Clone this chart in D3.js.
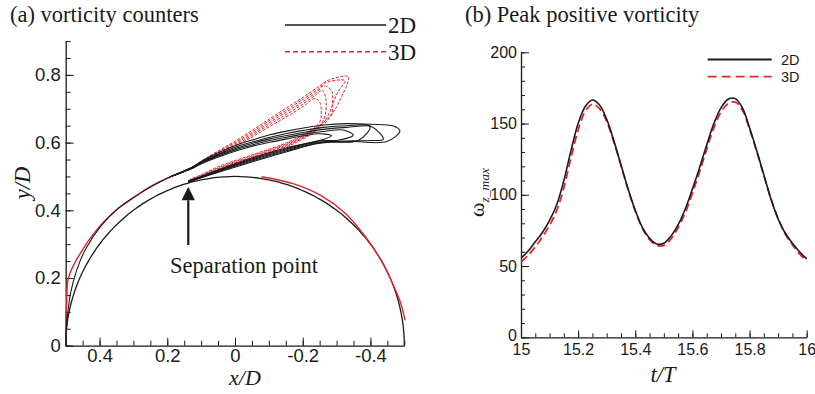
<!DOCTYPE html>
<html>
<head>
<meta charset="utf-8">
<script src="https://cdn.jsdelivr.net/npm/d3@7"></script>
<style>
  body { margin: 0; background: #fff; }
  svg { display: block; }
</style>
</head>
<body>
<svg id="chart" width="815" height="394"></svg>
<script>
// ---------- Panel (a): vorticity contours around the cylinder (x/D, y/D) ----------
const cylinderRadius = 0.5;
const xTicksA = [0.4, 0.2, 0, -0.2, -0.4];
const yTicksA = [0, 0.2, 0.4, 0.6, 0.8];

// 2D contour levels (solid black); first level wraps the front of the body
const contours2D = [
  [[0.4993,0.026],[0.495,0.087],[0.485,0.158],[0.469,0.219],[0.441,0.286],[0.395,0.355],[0.342,0.408],[0.281,0.450],[0.225,0.482],[0.191,0.499],[0.124,0.529],[0.094,0.548],[0.045,0.572],[-0.005,0.593],[-0.055,0.609],[-0.103,0.623],[-0.153,0.634],[-0.202,0.643],[-0.261,0.652],[-0.33,0.656],[-0.40,0.654],[-0.468,0.649],[-0.487,0.634],[-0.448,0.603],[-0.349,0.603],[-0.251,0.598],[-0.153,0.573],[-0.054,0.544],[0.044,0.514],[0.10,0.496],[0.138,0.483]],
  [[0.191,0.499],[0.124,0.528],[0.094,0.546],[0.045,0.568],[-0.005,0.588],[-0.055,0.603],[-0.103,0.616],[-0.153,0.627],[-0.202,0.636],[-0.261,0.645],[-0.33,0.650],[-0.40,0.649],[-0.438,0.61],[-0.40,0.606],[-0.349,0.605],[-0.251,0.600],[-0.153,0.576],[-0.054,0.547],[0.044,0.516],[0.10,0.497],[0.138,0.484]],
  [[0.191,0.499],[0.124,0.527],[0.094,0.544],[0.045,0.565],[-0.005,0.584],[-0.055,0.599],[-0.103,0.611],[-0.153,0.621],[-0.202,0.630],[-0.261,0.639],[-0.33,0.645],[-0.399,0.647],[-0.364,0.606],[-0.251,0.602],[-0.153,0.579],[-0.054,0.550],[0.044,0.518],[0.10,0.498],[0.138,0.485]],
  [[0.191,0.499],[0.124,0.526],[0.094,0.542],[0.045,0.562],[-0.005,0.580],[-0.055,0.594],[-0.103,0.606],[-0.153,0.616],[-0.202,0.625],[-0.261,0.633],[-0.32,0.637],[-0.349,0.622],[-0.305,0.607],[-0.251,0.605],[-0.153,0.582],[-0.054,0.553],[0.044,0.520],[0.10,0.499],[0.138,0.486]],
  [[0.191,0.499],[0.124,0.525],[0.094,0.540],[0.045,0.559],[-0.005,0.576],[-0.055,0.590],[-0.103,0.601],[-0.153,0.611],[-0.202,0.620],[-0.25,0.626],[-0.285,0.62],[-0.26,0.609],[-0.153,0.585],[-0.054,0.556],[0.044,0.522],[0.10,0.500],[0.138,0.487]]
];

// 3D wall layers (red, drawn solid where the levels pile up on the surface)
const wall3DFront = [[0.499,0.03],[0.5,0.07],[0.497,0.125],[0.492,0.2],[0.461,0.266],[0.408,0.343],[0.352,0.4],[0.304,0.434],[0.25,0.47],[0.191,0.4985]];
const wall3DRear = [[-0.078,0.499],[-0.174,0.478],[-0.2555,0.4425],[-0.327,0.390],[-0.3846,0.3227],[-0.433,0.25],[-0.4708,0.1714],[-0.4878,0.1307],[-0.4993,0.088],[-0.502,0.075]];

// 3D contour levels (dashed red)
const contours3D = [
  [[0.191,0.4985],[0.124,0.529],[0.094,0.549],[0.045,0.578],[-0.005,0.607],[-0.055,0.639],[-0.103,0.671],[-0.153,0.703],[-0.202,0.735],[-0.251,0.768],[-0.27,0.782],[-0.335,0.795],[-0.33,0.77],[-0.315,0.736],[-0.300,0.706],[-0.282,0.677],[-0.263,0.655],[-0.221,0.622],[-0.153,0.588],[-0.054,0.553],[0.044,0.519],[0.10,0.497],[0.133,0.487]],
  [[0.191,0.4985],[0.124,0.528],[0.094,0.547],[0.045,0.575],[-0.005,0.603],[-0.055,0.634],[-0.103,0.666],[-0.153,0.697],[-0.202,0.729],[-0.251,0.762],[-0.265,0.776],[-0.325,0.783],[-0.305,0.752],[-0.292,0.722],[-0.28,0.69],[-0.262,0.66],[-0.221,0.625],[-0.153,0.591],[-0.054,0.556],[0.044,0.522],[0.10,0.499],[0.133,0.488]],
  [[0.191,0.4985],[0.124,0.527],[0.094,0.545],[0.045,0.572],[-0.005,0.599],[-0.055,0.629],[-0.103,0.660],[-0.153,0.691],[-0.202,0.722],[-0.245,0.752],[-0.262,0.768],[-0.286,0.752],[-0.288,0.72],[-0.286,0.686],[-0.262,0.66],[-0.221,0.628],[-0.153,0.594],[-0.054,0.559],[0.044,0.525],[0.10,0.501],[0.133,0.489]],
  [[0.191,0.4985],[0.124,0.526],[0.094,0.543],[0.045,0.569],[-0.005,0.595],[-0.055,0.624],[-0.103,0.654],[-0.153,0.684],[-0.202,0.715],[-0.24,0.742],[-0.258,0.755],[-0.268,0.73],[-0.268,0.69],[-0.258,0.66],[-0.221,0.631],[-0.153,0.597],[-0.054,0.562],[0.044,0.528],[0.10,0.503],[0.133,0.490]],
  [[0.191,0.4985],[0.124,0.525],[0.094,0.541],[0.045,0.566],[-0.005,0.591],[-0.055,0.619],[-0.103,0.648],[-0.153,0.677],[-0.202,0.707],[-0.235,0.73],[-0.25,0.72],[-0.255,0.69],[-0.25,0.66],[-0.221,0.634],[-0.153,0.600],[-0.054,0.565],[0.044,0.531],[0.10,0.505],[0.133,0.491]]
];

// separation point annotation (arrow from label up to the surface)
const separationArrow = { x: 0.138, yFrom: 0.2975, yTip: 0.4697, headLen: 0.04, headHalf: 0.0197 };

// ---------- Panel (b): peak positive vorticity vs t/T ----------
const tValues = [15.000,15.025,15.050,15.075,15.100,15.125,15.150,15.175,15.200,15.225,15.250,15.275,15.300,15.325,15.350,15.375,15.400,15.425,15.450,15.475,15.500,15.525,15.550,15.575,15.600,15.625,15.650,15.675,15.700,15.725,15.750,15.775,15.800,15.825,15.850,15.875,15.900,15.925,15.950,15.975,16.000];
const vort2D = [55.5,60.5,67,73.5,82,93,110,131,150,162,166.5,163,153,138,121,104,89,77,69.5,65.5,66,71,79,90,104,119,135,150,161,167,167.5,161,147,131,114,97,83,73,66,60,55];
const vort3D = [53,57.5,63.5,70.5,78.5,89,105,126,145.5,158.5,163.5,160.5,151.5,137,120.5,103.5,88.5,76.5,68.5,64.5,64.5,69,77,87.5,101,116,132,147,158,164,165,159.5,146,130.5,113.5,97,83.5,72.5,65,58.5,53.5];
const xTicksB = [15, 15.2, 15.4, 15.6, 15.8, 16];
const yTicksB = [0, 50, 100, 150, 200];

const SERIF = '"Liberation Serif","Times New Roman",Times,serif';
const SANS = '"Liberation Sans",Arial,Helvetica,sans-serif';
const RED = "#e3262d";
const INK = "#1a1a1a";

const svg = d3.select("#chart");

function styleAxis(g, size) {
  g.attr("font-family", SANS).attr("font-size", size);
  g.selectAll("text").attr("fill", INK);
  g.selectAll("line").attr("stroke", INK).attr("stroke-width", 1);
  g.select(".domain").attr("stroke", INK).attr("stroke-width", 1.3);
}
const fmt = d => String(d);

// ===== Panel (a) =====
const xA = d3.scaleLinear().domain([0.5, -0.5]).range([65.7, 404.3]);
const yA = d3.scaleLinear().domain([0, 0.9]).range([345.7, 41.05]);
const gA = svg.append("g");

gA.append("g").attr("transform", `translate(0,${yA(0)})`)
  .call(d3.axisBottom(xA).tickValues(d3.range(-10, 11).map(i => i * 0.05)).tickSizeInner(-5).tickSizeOuter(0).tickFormat(""))
  .call(g => { g.select(".domain").remove(); styleAxis(g, 18); });
gA.append("g").attr("transform", `translate(0,${yA(0)})`)
  .call(d3.axisBottom(xA).tickValues(xTicksA).tickSizeInner(-8).tickSizeOuter(0).tickPadding(3.5).tickFormat(fmt))
  .call(g => styleAxis(g, 18.5));
gA.append("g").attr("transform", `translate(${xA(0.5)},0)`)
  .call(d3.axisLeft(yA).tickValues(d3.range(0, 19).map(i => i * 0.05)).tickSizeInner(-5).tickSizeOuter(0).tickFormat(""))
  .call(g => { g.select(".domain").remove(); styleAxis(g, 18); });
gA.append("g").attr("transform", `translate(${xA(0.5)},0)`)
  .call(d3.axisLeft(yA).tickValues(yTicksA).tickSizeInner(-8).tickSizeOuter(0).tickPadding(5).tickFormat(fmt))
  .call(g => styleAxis(g, 18.5));

const lineA = d3.line().x(d => xA(d[0])).y(d => yA(d[1])).curve(d3.curveCatmullRom.alpha(0.5));

// cylinder surface
const bodyPts = d3.range(0, 181, 2).map(a => [cylinderRadius * Math.cos(a * Math.PI / 180), cylinderRadius * Math.sin(a * Math.PI / 180)]);
gA.append("path").attr("d", lineA(bodyPts)).attr("fill", "none").attr("stroke", INK).attr("stroke-width", 1.3);

// 3D contours
gA.append("path").attr("d", lineA(wall3DFront)).attr("fill", "none").attr("stroke", RED).attr("stroke-width", 1.4);
gA.append("path").attr("d", lineA(wall3DRear)).attr("fill", "none").attr("stroke", RED).attr("stroke-width", 1.4);
gA.selectAll(".c3d").data(contours3D).join("path").attr("class", "c3d")
  .attr("d", lineA).attr("fill", "none").attr("stroke", RED).attr("stroke-width", 1)
  .attr("stroke-dasharray", "3,1.5");

// 2D contours
gA.selectAll(".c2d").data(contours2D).join("path").attr("class", "c2d")
  .attr("d", lineA).attr("fill", "none").attr("stroke", INK).attr("stroke-width", 1.1);

// separation arrow
const sa = separationArrow;
gA.append("line")
  .attr("x1", xA(sa.x)).attr("x2", xA(sa.x))
  .attr("y1", yA(sa.yFrom)).attr("y2", yA(sa.yTip - sa.headLen))
  .attr("stroke", INK).attr("stroke-width", 2.2);
gA.append("path")
  .attr("d", d3.line()([[xA(sa.x), yA(sa.yTip)], [xA(sa.x - sa.headHalf), yA(sa.yTip - sa.headLen)], [xA(sa.x + sa.headHalf), yA(sa.yTip - sa.headLen)]]) + "Z")
  .attr("fill", INK);
gA.append("text").attr("x", 170).attr("y", 273).attr("font-family", SERIF).attr("font-size", 22.5)
  .attr("fill", INK).text("Separation point");

// legend (a)
gA.append("line").attr("x1", 285).attr("x2", 386).attr("y1", 25).attr("y2", 25).attr("stroke", INK).attr("stroke-width", 1.5);
gA.append("line").attr("x1", 285).attr("x2", 386).attr("y1", 51.7).attr("y2", 51.7).attr("stroke", RED).attr("stroke-width", 1.5).attr("stroke-dasharray", "5,3");
gA.append("text").attr("x", 388).attr("y", 33.3).attr("font-family", SERIF).attr("font-size", 23).attr("fill", INK).text("2D");
gA.append("text").attr("x", 388).attr("y", 60).attr("font-family", SERIF).attr("font-size", 23).attr("fill", INK).text("3D");

// titles and axis names (a)
gA.append("text").attr("x", 10).attr("y", 22).attr("font-family", SERIF).attr("font-size", 22.5).attr("fill", INK).text("(a) vorticity counters");
gA.append("text").attr("x", 245).attr("y", 385).attr("text-anchor", "middle").attr("font-family", SERIF)
  .attr("font-style", "italic").attr("font-size", 22).attr("fill", INK).text("x/D");
gA.append("text").attr("transform", "translate(30,183) rotate(-90)").attr("text-anchor", "middle").attr("font-family", SERIF)
  .attr("font-style", "italic").attr("font-size", 22.5).attr("fill", INK).text("y/D");

// ===== Panel (b) =====
const xB = d3.scaleLinear().domain([15, 16]).range([521, 806.7]);
const yB = d3.scaleLinear().domain([0, 200]).range([337.3, 52.3]);
const gB = svg.append("g");

gB.append("g").attr("transform", `translate(0,${yB(0)})`)
  .call(d3.axisBottom(xB).tickValues(d3.range(0, 21).map(i => 15 + i * 0.05)).tickSizeInner(-4).tickSizeOuter(0).tickFormat(""))
  .call(g => { g.select(".domain").remove(); styleAxis(g, 16); });
gB.append("g").attr("transform", `translate(0,${yB(0)})`)
  .call(d3.axisBottom(xB).tickValues(xTicksB).tickSizeInner(-7).tickSizeOuter(0).tickPadding(6.5).tickFormat(fmt))
  .call(g => styleAxis(g, 16));
gB.append("g").attr("transform", `translate(${xB(15)},0)`)
  .call(d3.axisLeft(yB).tickValues(d3.range(0, 21).map(i => i * 10)).tickSizeInner(-4).tickSizeOuter(0).tickFormat(""))
  .call(g => { g.select(".domain").remove(); styleAxis(g, 16); });
gB.append("g").attr("transform", `translate(${xB(15)},0)`)
  .call(d3.axisLeft(yB).tickValues(yTicksB).tickSizeInner(-8).tickSizeOuter(0).tickPadding(4).tickFormat(fmt))
  .call(g => styleAxis(g, 16))
  .call(g => g.selectAll(".tick text").filter(d => d === 0).attr("dy", "0.2em"));

const lineB = d3.line().x((d, i) => xB(tValues[i])).y(d => yB(d)).curve(d3.curveCatmullRom.alpha(0.5));
gB.append("path").attr("d", lineB(vort3D)).attr("fill", "none").attr("stroke", RED).attr("stroke-width", 1.8).attr("stroke-dasharray", "8,4");
gB.append("path").attr("d", lineB(vort2D)).attr("fill", "none").attr("stroke", INK).attr("stroke-width", 1.6);

// legend (b)
gB.append("line").attr("x1", 707.7).attr("x2", 771.7).attr("y1", 59.5).attr("y2", 59.5).attr("stroke", INK).attr("stroke-width", 1.8);
gB.append("line").attr("x1", 707.7).attr("x2", 771.7).attr("y1", 76.7).attr("y2", 76.7).attr("stroke", RED).attr("stroke-width", 1.8).attr("stroke-dasharray", "9,5");
gB.append("text").attr("x", 781).attr("y", 64.5).attr("font-family", SANS).attr("font-size", 14.5).attr("fill", INK).text("2D");
gB.append("text").attr("x", 781).attr("y", 81.5).attr("font-family", SANS).attr("font-size", 14.5).attr("fill", INK).text("3D");

// titles and axis names (b)
gB.append("text").attr("x", 465).attr("y", 22).attr("font-family", SERIF).attr("font-size", 22.5).attr("fill", INK).text("(b) Peak positive vorticity");
gB.append("text").attr("x", 663).attr("y", 382).attr("text-anchor", "middle").attr("font-family", SERIF)
  .attr("font-style", "italic").attr("font-size", 22.5).attr("fill", INK).text("t/T");
const yLabB = gB.append("text").attr("transform", "translate(484,217) rotate(-90)").attr("font-family", SERIF)
  .attr("font-size", 22).attr("fill", INK);
yLabB.append("tspan").text("ω");
yLabB.append("tspan").attr("font-style", "italic").attr("font-size", 13.5).attr("dy", 5).text("z_max");
</script>
</body>
</html>
